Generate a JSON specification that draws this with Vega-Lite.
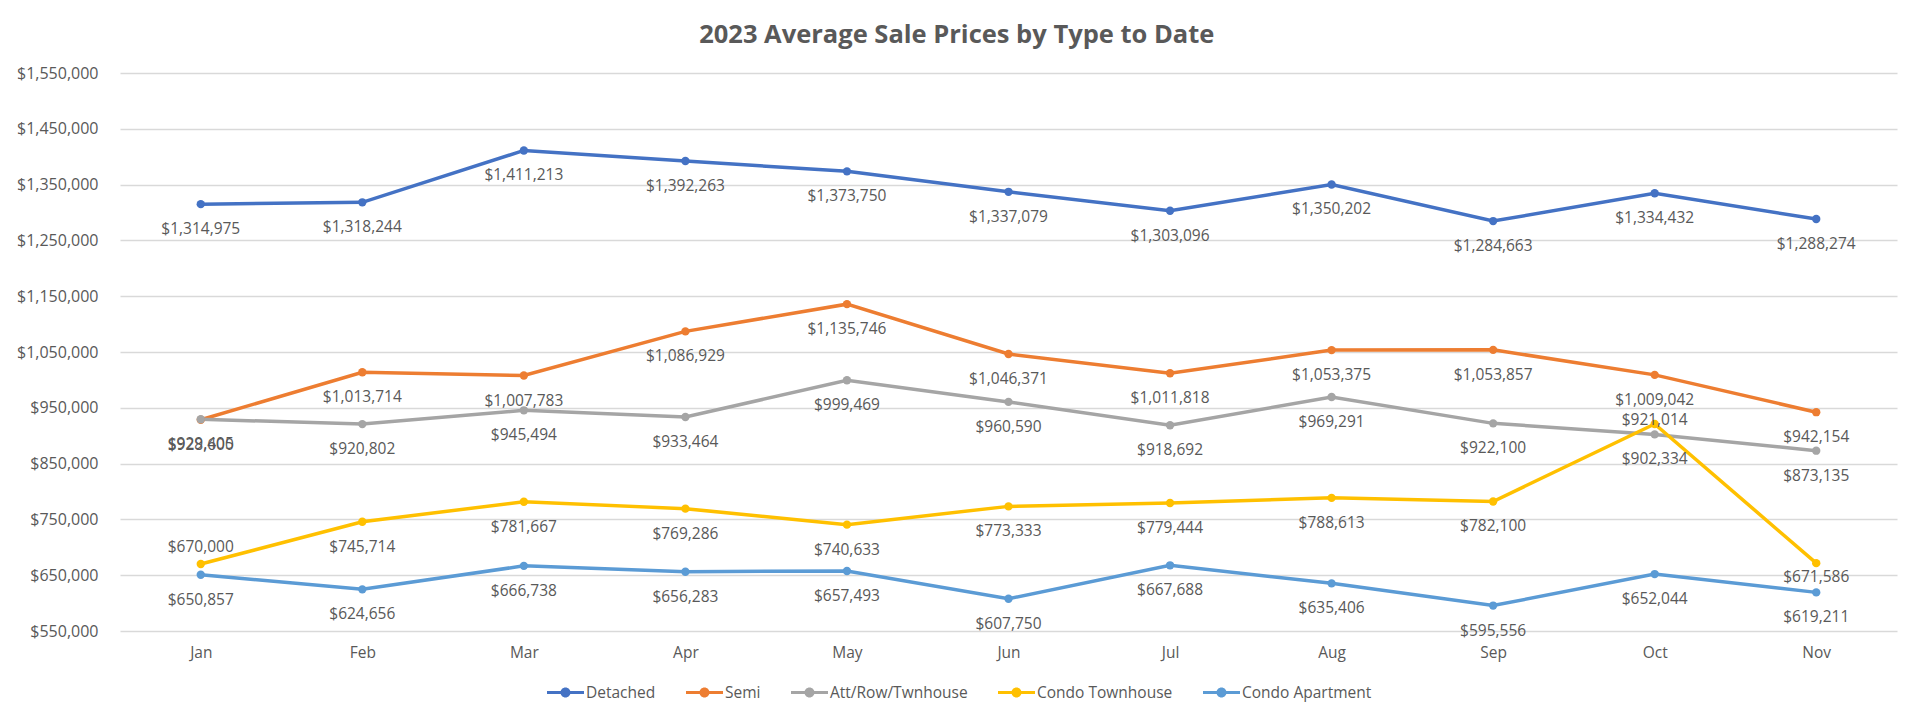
{
  "$schema": "https://vega.github.io/schema/vega-lite/v6.json",
  "width": 1777,
  "height": 558,
  "autosize": "none",
  "padding": {"left": 120, "top": 73, "right": 23, "bottom": 93},
  "background": "white",
  "title": {
    "text": "2023 Average Sale Prices by Type to Date",
    "font": "Open Sans",
    "fontSize": 25.5,
    "fontWeight": "bold",
    "color": "#595959",
    "anchor": "middle",
    "frame": "bounds",
    "offset": 17
  },
  "data": {
    "values": [
      {"month": "Jan", "type": "Detached", "price": 1314975},
      {"month": "Feb", "type": "Detached", "price": 1318244},
      {"month": "Mar", "type": "Detached", "price": 1411213},
      {"month": "Apr", "type": "Detached", "price": 1392263},
      {"month": "May", "type": "Detached", "price": 1373750},
      {"month": "Jun", "type": "Detached", "price": 1337079},
      {"month": "Jul", "type": "Detached", "price": 1303096},
      {"month": "Aug", "type": "Detached", "price": 1350202},
      {"month": "Sep", "type": "Detached", "price": 1284663},
      {"month": "Oct", "type": "Detached", "price": 1334432},
      {"month": "Nov", "type": "Detached", "price": 1288274},
      {"month": "Jan", "type": "Semi", "price": 928600},
      {"month": "Feb", "type": "Semi", "price": 1013714},
      {"month": "Mar", "type": "Semi", "price": 1007783},
      {"month": "Apr", "type": "Semi", "price": 1086929},
      {"month": "May", "type": "Semi", "price": 1135746},
      {"month": "Jun", "type": "Semi", "price": 1046371},
      {"month": "Jul", "type": "Semi", "price": 1011818},
      {"month": "Aug", "type": "Semi", "price": 1053375},
      {"month": "Sep", "type": "Semi", "price": 1053857},
      {"month": "Oct", "type": "Semi", "price": 1009042},
      {"month": "Nov", "type": "Semi", "price": 942154},
      {"month": "Jan", "type": "Att/Row/Twnhouse", "price": 929405},
      {"month": "Feb", "type": "Att/Row/Twnhouse", "price": 920802},
      {"month": "Mar", "type": "Att/Row/Twnhouse", "price": 945494},
      {"month": "Apr", "type": "Att/Row/Twnhouse", "price": 933464},
      {"month": "May", "type": "Att/Row/Twnhouse", "price": 999469},
      {"month": "Jun", "type": "Att/Row/Twnhouse", "price": 960590},
      {"month": "Jul", "type": "Att/Row/Twnhouse", "price": 918692},
      {"month": "Aug", "type": "Att/Row/Twnhouse", "price": 969291},
      {"month": "Sep", "type": "Att/Row/Twnhouse", "price": 922100},
      {"month": "Oct", "type": "Att/Row/Twnhouse", "price": 902334},
      {"month": "Nov", "type": "Att/Row/Twnhouse", "price": 873135},
      {"month": "Jan", "type": "Condo Townhouse", "price": 670000},
      {"month": "Feb", "type": "Condo Townhouse", "price": 745714},
      {"month": "Mar", "type": "Condo Townhouse", "price": 781667},
      {"month": "Apr", "type": "Condo Townhouse", "price": 769286},
      {"month": "May", "type": "Condo Townhouse", "price": 740633},
      {"month": "Jun", "type": "Condo Townhouse", "price": 773333},
      {"month": "Jul", "type": "Condo Townhouse", "price": 779444},
      {"month": "Aug", "type": "Condo Townhouse", "price": 788613},
      {"month": "Sep", "type": "Condo Townhouse", "price": 782100},
      {"month": "Oct", "type": "Condo Townhouse", "price": 921014},
      {"month": "Nov", "type": "Condo Townhouse", "price": 671586},
      {"month": "Jan", "type": "Condo Apartment", "price": 650857},
      {"month": "Feb", "type": "Condo Apartment", "price": 624656},
      {"month": "Mar", "type": "Condo Apartment", "price": 666738},
      {"month": "Apr", "type": "Condo Apartment", "price": 656283},
      {"month": "May", "type": "Condo Apartment", "price": 657493},
      {"month": "Jun", "type": "Condo Apartment", "price": 607750},
      {"month": "Jul", "type": "Condo Apartment", "price": 667688},
      {"month": "Aug", "type": "Condo Apartment", "price": 635406},
      {"month": "Sep", "type": "Condo Apartment", "price": 595556},
      {"month": "Oct", "type": "Condo Apartment", "price": 652044},
      {"month": "Nov", "type": "Condo Apartment", "price": 619211}
    ]
  },
  "encoding": {
    "x": {
      "field": "month",
      "type": "ordinal",
      "sort": ["Jan", "Feb", "Mar", "Apr", "May", "Jun", "Jul", "Aug", "Sep", "Oct", "Nov"],
      "scale": {"type": "point", "padding": 0.5},
      "axis": {
        "title": null,
        "labelAngle": 0,
        "ticks": false,
        "domain": false,
        "grid": false,
        "labelPadding": 14,
        "labelFont": "Open Sans",
        "labelFontSize": 15.5,
        "labelColor": "#595959"
      }
    },
    "y": {
      "field": "price",
      "type": "quantitative",
      "scale": {"domain": [550000, 1550000], "nice": false, "zero": false},
      "axis": {
        "title": null,
        "values": [550000, 650000, 750000, 850000, 950000, 1050000, 1150000, 1250000, 1350000, 1450000, 1550000],
        "format": "$,.0f",
        "ticks": false,
        "domain": false,
        "gridColor": "#D9D9D9",
        "gridWidth": 1.3,
        "labelPadding": 22,
        "labelFont": "Open Sans",
        "labelFontSize": 16,
        "labelColor": "#595959"
      }
    },
    "color": {
      "field": "type",
      "type": "nominal",
      "sort": ["Detached", "Semi", "Att/Row/Twnhouse", "Condo Townhouse", "Condo Apartment"],
      "scale": {
        "domain": ["Detached", "Semi", "Att/Row/Twnhouse", "Condo Townhouse", "Condo Apartment"],
        "range": ["#4472C4", "#ED7D31", "#A5A5A5", "#FFC000", "#5B9BD5"]
      },
      "legend": {
        "title": null,
        "orient": "none",
        "legendX": 427,
        "legendY": 601,
        "direction": "horizontal",
        "labelFont": "Open Sans",
        "labelFontSize": 15.5,
        "labelColor": "#595959",
        "columnPadding": 30,
        "labelOffset": 2,
        "symbolType": "M-1,-0.08H1V0.08H-1Z M-0.27,0A0.27,0.27 0 1,1 0.27,0A0.27,0.27 0 1,1 -0.27,0Z",
        "symbolSize": 1369,
        "symbolStrokeWidth": 0,
        "encode": {
          "symbols": {
            "update": {
              "fill": {"scale": "color", "field": "value"},
              "fillOpacity": {"value": 1},
              "size": {"value": 1369},
              "shape": {"value": "M-1,-0.08H1V0.08H-1Z M-0.27,0A0.27,0.27 0 1,1 0.27,0A0.27,0.27 0 1,1 -0.27,0Z"},
              "strokeWidth": {"value": 0}
            }
          }
        }
      }
    }
  },
  "layer": [
    {
      "mark": {"type": "line", "strokeWidth": 3.5},
      "encoding": {"detail": {"field": "type"}}
    },
    {
      "mark": {"type": "point", "filled": true, "size": 70, "opacity": 1}
    },
    {
      "transform": [
        {"filter": "!(datum.type == 'Condo Townhouse' && (datum.month == 'Jan' || datum.month == 'Oct' || datum.month == 'Nov'))"}
      ],
      "mark": {"type": "text", "dy": 25, "font": "Open Sans", "fontSize": 15.5},
      "encoding": {
        "text": {"field": "price", "type": "quantitative", "format": "$,.0f"},
        "color": {"value": "#595959"}
      }
    },
    {
      "transform": [
        {"filter": "datum.type == 'Condo Townhouse' && datum.month == 'Jan'"}
      ],
      "mark": {"type": "text", "dy": -17, "font": "Open Sans", "fontSize": 15.5},
      "encoding": {
        "text": {"field": "price", "type": "quantitative", "format": "$,.0f"},
        "color": {"value": "#595959"}
      }
    },
    {
      "transform": [
        {"filter": "datum.type == 'Condo Townhouse' && datum.month == 'Oct'"}
      ],
      "mark": {"type": "text", "dy": -4, "font": "Open Sans", "fontSize": 15.5},
      "encoding": {
        "text": {"field": "price", "type": "quantitative", "format": "$,.0f"},
        "color": {"value": "#595959"}
      }
    },
    {
      "transform": [
        {"filter": "datum.type == 'Condo Townhouse' && datum.month == 'Nov'"}
      ],
      "mark": {"type": "text", "dy": 14, "font": "Open Sans", "fontSize": 15.5},
      "encoding": {
        "text": {"field": "price", "type": "quantitative", "format": "$,.0f"},
        "color": {"value": "#595959"}
      }
    }
  ],
  "config": {
    "view": {"stroke": null}
  }
}
